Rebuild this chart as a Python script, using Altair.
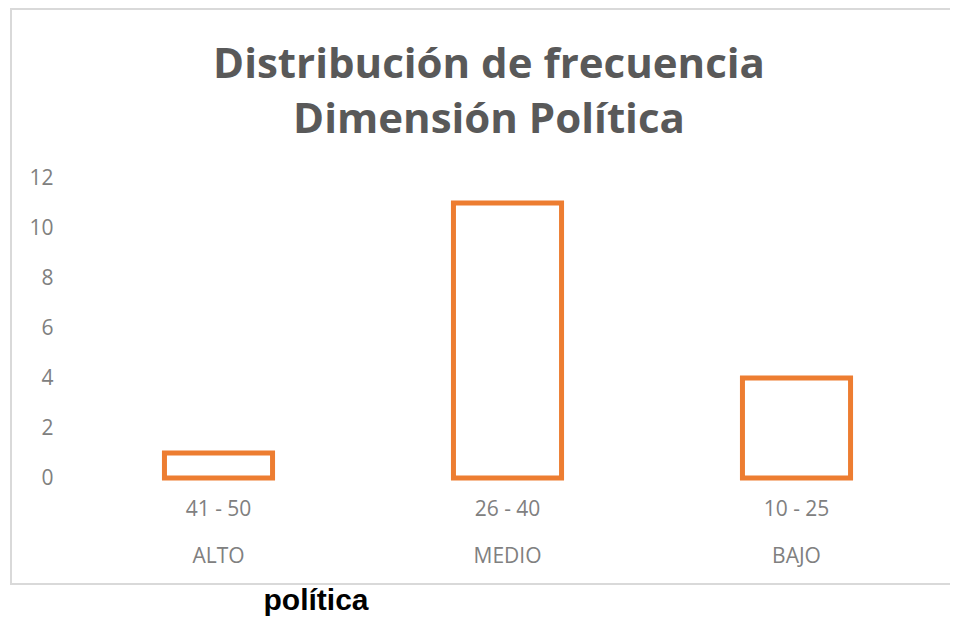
import altair as alt
import pandas as pd

ranges = ["41 - 50", "26 - 40", "10 - 25"]
levels = ["ALTO", "MEDIO", "BAJO"]
values = [1, 11, 4]
title_lines = ["Distribución de frecuencia", "Dimensión Política"]
note = ["política"]

df = pd.DataFrame({
    "cat": [f"{r}|{l}" for r, l in zip(ranges, levels)],
    "value": values,
})
order = list(df["cat"])

bars = alt.Chart(df).mark_bar(
    fill="white", stroke="#ED7D31", strokeWidth=5, strokeJoin="miter"
).encode(
    x=alt.X("cat:N", sort=order,
            scale=alt.Scale(paddingInner=0.626, paddingOuter=0.313),
            axis=alt.Axis(title=None, labelAngle=0, ticks=False, domain=False,
                          labelExpr="split(datum.label, '|')",
                          labelLineHeight=47, labelPadding=20,
                          labelFont="Open Sans", labelFontSize=21,
                          labelColor="#808080")),
    y=alt.Y("value:Q", scale=alt.Scale(domain=[0, 12]),
            axis=alt.Axis(title=None, values=[0, 2, 4, 6, 8, 10, 12], grid=False,
                          ticks=False, domain=False, labelPadding=21,
                          labelFont="Open Sans", labelFontSize=21,
                          labelColor="#808080")),
)

border = alt.Chart(pd.DataFrame({"a": [0]})).mark_rect(
    fill=None, stroke="#d9d9d9", strokeWidth=2, clip=False
).encode(
    x=alt.value(-63), x2=alt.value(1000), y=alt.value(-169), y2=alt.value(406)
)

title1 = alt.Chart(pd.DataFrame({"t": [title_lines[0]]})).mark_text(
    font="Open Sans", fontWeight="bold", fontSize=42, color="#595959",
    align="center", baseline="alphabetic", clip=False
).encode(text="t:N", x=alt.value(415), y=alt.value(-100))

title2 = alt.Chart(pd.DataFrame({"t": [title_lines[1]]})).mark_text(
    font="Open Sans", fontWeight="bold", fontSize=42, color="#595959",
    align="center", baseline="alphabetic", clip=False
).encode(text="t:N", x=alt.value(415), y=alt.value(-45))

note_text = alt.Chart(pd.DataFrame({"t": note})).mark_text(
    font="Liberation Sans", fontWeight="bold", fontSize=30, color="black",
    align="center", baseline="alphabetic", clip=False
).encode(text="t:N", x=alt.value(242), y=alt.value(432))

chart = alt.layer(border, bars, title1, title2, note_text).properties(
    width=867, height=300,
    autosize=alt.AutoSizeParams(type="none"),
    padding={"left": 66, "top": 170, "right": 9, "bottom": 141},
).configure_view(stroke=None)

chart.save("out.html", embed_options={"renderer": "svg", "actions": False})
